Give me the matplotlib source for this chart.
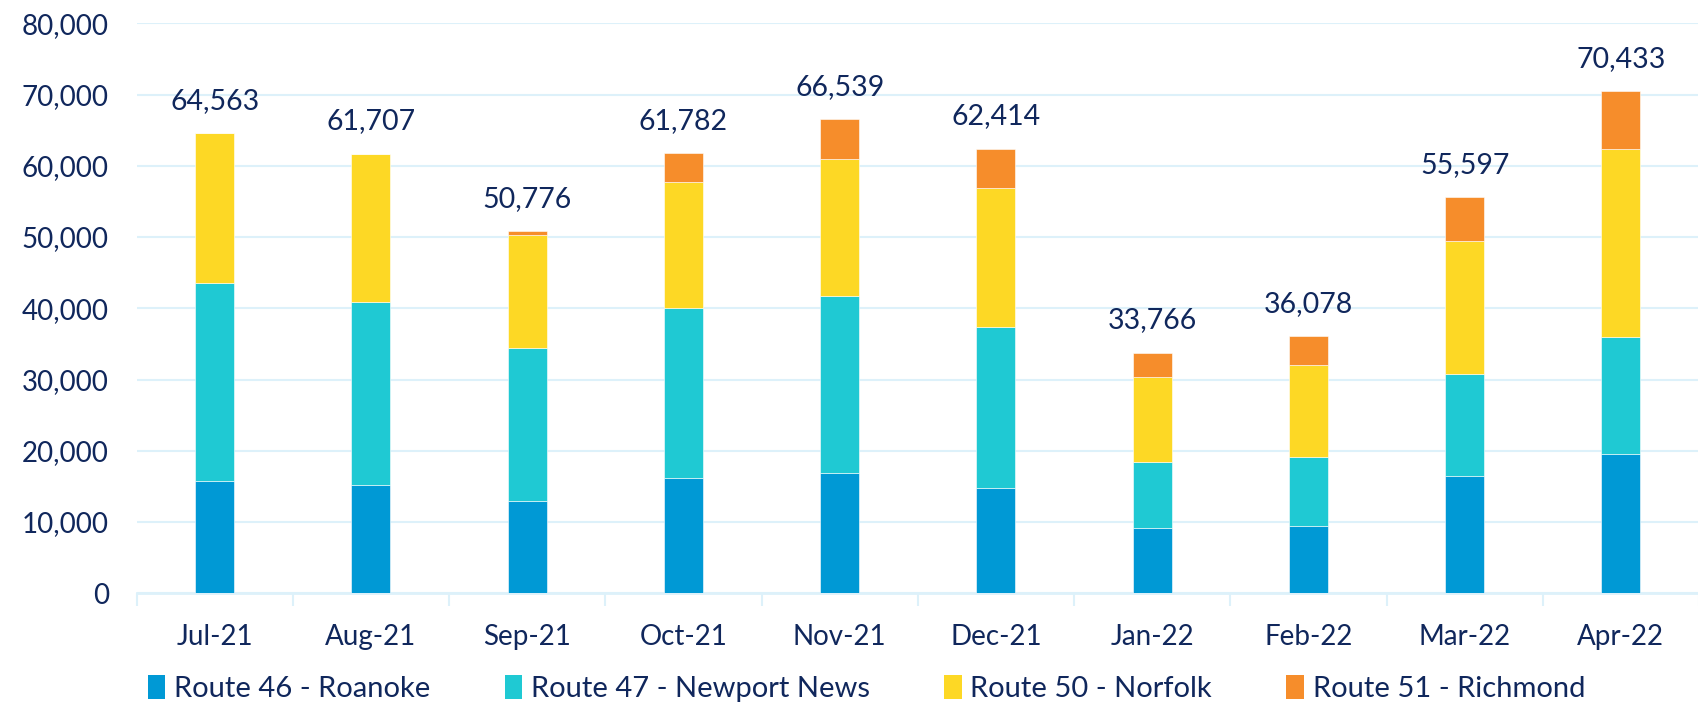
import matplotlib
matplotlib.use("Agg")
import matplotlib.pyplot as plt
import numpy as np
from matplotlib.patches import Patch

months = ["Jul-21", "Aug-21", "Sep-21", "Oct-21", "Nov-21",
          "Dec-21", "Jan-22", "Feb-22", "Mar-22", "Apr-22"]
route_46 = [15800, 15200, 12950, 16230, 16930, 14730, 9210, 9490, 16510, 19590]
route_47 = [27750, 25700, 21480, 23860, 24840, 22650, 9220, 9690, 14310, 16430]
route_50 = [21013, 20807, 15900, 17640, 19190, 19510, 11970, 12820, 18670, 26300]
route_51 = [0, 0, 446, 4052, 5579, 5524, 3366, 4078, 6107, 8113]
series_names = ["Route 46 - Roanoke", "Route 47 - Newport News",
                "Route 50 - Norfolk", "Route 51 - Richmond"]

colors = ["#0099D5", "#1FC9D3", "#FDD825", "#F68D2B"]
text_color = "#10275C"
grid_color = "#DDF1FA"

plt.rcParams["font.family"] = ["Lato", "DejaVu Sans"]

fig = plt.figure(figsize=(16.99, 7.05), dpi=100)
ax = fig.add_axes([0.0804, 0.1585, 0.9196, 0.8085])

x = np.arange(len(months))
bottom = np.zeros(len(months))
for values, color in zip([route_46, route_47, route_50, route_51], colors):
    ax.bar(x, values, width=0.25, bottom=bottom, color=color,
           edgecolor="white", linewidth=0.4, zorder=3)
    bottom += np.array(values)

for xi, total in zip(x, bottom):
    ax.annotate(f"{int(total):,}", (xi, total), xytext=(0, 14),
                textcoords="offset points", ha="center", va="bottom",
                fontsize=20.5, color=text_color)

ax.set_xlim(-0.5, len(months) - 0.5)
ax.set_ylim(0, 80000)
ax.set_yticks(np.arange(0, 80001, 10000))
ax.set_yticklabels([f"{v:,}" for v in range(0, 80001, 10000)])
ax.set_xticks(x)
ax.set_xticklabels(months)
ax.set_xticks(np.arange(-0.5, len(months)), minor=True)
ax.tick_params(axis="y", length=0, pad=20, labelsize=20, labelcolor=text_color)
ax.tick_params(axis="x", which="major", length=0, pad=22, labelsize=20,
               labelcolor=text_color)
ax.tick_params(axis="x", which="minor", length=9, width=1.5, color=grid_color)

ax.grid(axis="y", color=grid_color, linewidth=1.5, zorder=0)
for side in ["top", "right", "left"]:
    ax.spines[side].set_visible(False)
ax.spines["bottom"].set_color(grid_color)
ax.spines["bottom"].set_linewidth(2)

handles = [Patch(facecolor=c) for c in colors]
fig.legend(handles, series_names, loc="center", bbox_to_anchor=(0.51, 0.023),
           ncol=4, frameon=False, fontsize=21, labelcolor=text_color,
           handlelength=0.6, handleheight=0.9, handletextpad=0.3,
           columnspacing=2.55)

fig.savefig("out.png", dpi=100, facecolor="white")
